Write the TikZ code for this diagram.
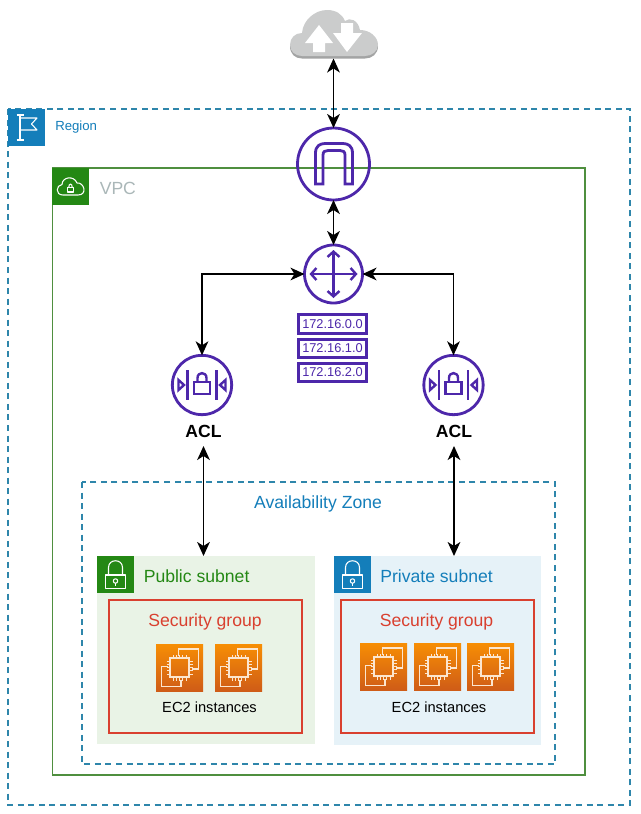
\documentclass[tikz,border=0pt]{standalone}
\usepackage{fontspec}
\setmainfont{Liberation Sans}
\usetikzlibrary{arrows.meta,calc}
\definecolor{awsblue}{HTML}{147EBA}
\definecolor{dashblue}{HTML}{2E86AB}
\definecolor{awsgreen}{HTML}{248814}
\definecolor{vpcline}{HTML}{4F8F3F}
\definecolor{awspurple}{HTML}{4D27AA}
\definecolor{awsred}{HTML}{D9402F}
\definecolor{pubfill}{HTML}{E9F3E6}
\definecolor{prifill}{HTML}{E6F2F8}
\definecolor{vpcgray}{HTML}{AAB7B8}
\definecolor{cloudtop}{HTML}{CBCCCC}
\definecolor{cloudlow}{HTML}{A3A4A4}
\definecolor{ec2top}{HTML}{F78E04}
\definecolor{ec2low}{HTML}{CF5C17}
\definecolor{ec2line}{HTML}{FCE6CF}
\tikzset{
  x=.75pt,y=-.75pt,
  conn/.style={draw=black,line width=1.1pt,{Stealth[length=10.5pt,width=9.5pt,inset=3pt]}-{Stealth[length=10.5pt,width=9.5pt,inset=3pt]}},
  zonebox/.style={draw=dashblue,line width=.9pt,dash pattern=on 4.5pt off 3.4pt},
  iconsq/.style={minimum size=27.75pt,inner sep=0pt,outer sep=0pt},
  ring/.style={circle,draw=awspurple,line width=2.1pt,inner sep=0pt,outer sep=0pt},
  iconline/.style={draw=white,line width=.8pt,line join=round},
  purpleline/.style={draw=awspurple,line width=1.8pt,line join=miter},
  iptag/.style={draw=awspurple,line width=2.4pt,minimum width=51.5pt,minimum height=14pt,inner sep=0pt,outer sep=0pt,text=awspurple,font=\fontsize{9.6}{10}\selectfont},
  big/.style={font=\fontsize{13.2}{14}\selectfont,inner sep=0pt},
  ec2sq/.style={minimum size=35.25pt,inner sep=0pt,outer sep=0pt,top color=ec2top,bottom color=ec2low},
  ec2text/.style={font=\fontsize{11}{12}\selectfont,inner sep=0pt,text=black},
  padlock/.pic={
    \draw[iconline] (-10,.5) rectangle (10,14);
    \draw[iconline] (-7,.5) -- (-7,-7) .. controls (-7,-16) and (7,-16) .. (7,-7) -- (7,.5);
    \draw[iconline] (0,6.5) circle[radius=2.2];
    \draw[iconline] (0,8.7) -- (0,11.5);
  },
  chip/.pic={
    \draw[draw=ec2line,line width=1pt] (-1,-11.5) -- (-1,-18.5) -- (19,-18.5) -- (19,1.5) -- (12,1.5);
    \draw[draw=ec2line,line width=1pt] (-12,-1) -- (-18,-1) -- (-18,19) -- (1.5,19) -- (1.5,12);
    \draw[draw=ec2line,line width=1.1pt] (-9.5,-9.5) rectangle (9.5,9.5);
    \foreach \o in {-6.5,-3.25,0,3.25,6.5}{
      \draw[draw=ec2line,line width=.65pt] (\o,-9.5) -- (\o,-13) (\o,9.5) -- (\o,13) (-9.5,\o) -- (-13,\o) (9.5,\o) -- (13,\o);
    }
  },
  aclmark/.pic={
    \draw[purpleline] (-14.5,-15) -- (-14.5,15) (14.5,-15) -- (14.5,15);
    \draw[purpleline] (-23.5,-5) -- (-23.5,5) -- (-18,0) -- cycle;
    \draw[purpleline] (23.5,-5) -- (23.5,5) -- (18,0) -- cycle;
    \draw[purpleline] (-8,-3) rectangle (8,9);
    \draw[purpleline] (-4.5,-3) -- (-4.5,-7) .. controls (-4.5,-13.5) and (4.5,-13.5) .. (4.5,-7) -- (4.5,-3);
  }
}
\begin{document}
\begin{tikzpicture}
\useasboundingbox[fill=white] (0,0) rectangle (640,814);

% Containers
\draw[zonebox] (8,109) rectangle (630,805);
\draw[draw=vpcline,line width=1.05pt] (52.5,168) rectangle (585,775);
\draw[zonebox] (82,482) rectangle (555,764);
\fill[pubfill] (97,556) rectangle (315,744);
\fill[prifill] (334,556) rectangle (541,745);
\draw[draw=awsred,line width=.9pt] (109,600) rectangle (302,733);
\draw[draw=awsred,line width=.9pt] (341,600) rectangle (534,733);

% Corner icons
\node[iconsq,fill=awsblue] (regionicon) at (26.5,127.5) {};
\draw[iconline] (20,115) -- (20,140) (16.5,140) -- (24,140);
\draw[iconline] (16.5,115) -- (23.5,115);
\draw[iconline] (20,118) -- (37,118) -- (31.5,124) -- (37,130) -- (20,130);
\node[iconsq,fill=awsgreen] (vpcicon) at (70.5,186.5) {};
\draw[iconline] (63,195) .. controls (55,195) and (56,185) .. (62,184.5)
  .. controls (62,177) and (74,175) .. (77,183) .. controls (84,182) and (88,195) .. (78,195) -- cycle;
\draw[iconline] (67.5,187.5) rectangle (73.5,192);
\draw[iconline] (68.8,187.5) .. controls (68.5,183) and (72.5,183) .. (72.2,187.5);
\node[iconsq,fill=awsgreen] (pubicon) at (115.5,574.5) {};
\pic at (115.5,574.5) {padlock};
\node[iconsq,fill=awsblue] (priicon) at (352.5,574.5) {};
\pic at (352.5,574.5) {padlock};

% Container labels
\node[anchor=west,inner sep=0pt,text=awsblue,font=\fontsize{9.9}{11}\selectfont] (regionlab) at (55,127) {Region};
\node[anchor=west,big,text=vpcgray] (vpclab) at (99.5,188) {VPC};
\node[big,text=awsblue] (azlab) at (318,503.5) {Availability Zone};
\node[anchor=west,big,text=awsgreen] (publab) at (143.5,576) {Public subnet};
\node[anchor=west,big,text=awsblue] (prilab) at (380,576) {Private subnet};
\node[big,text=awsred] (sg1) at (205,621.5) {Security group};
\node[big,text=awsred] (sg2) at (436.5,621.5) {Security group};

% Cloud
\node[minimum width=66pt,minimum height=37.5pt,inner sep=0pt,outer sep=0pt] (cloud) at (333.5,33.5) {};
\fill[cloudlow] (302,58.5) .. controls (295,58.5) and (290,54) .. (290,46) -- (378,46) .. controls (378,54) and (372,58.5) .. (365,58.5) -- cycle;
\fill[cloudtop] (302,56) .. controls (295,56) and (290,51) .. (290,45) .. controls (290,38) and (295,33) .. (302,33)
  .. controls (303,20) and (315,10) .. (327,10) .. controls (336,10) and (342,14) .. (345,21)
  .. controls (350,17) and (358,20) .. (360,30) .. controls (370,30) and (378,37) .. (378,45)
  .. controls (378,51) and (372,56) .. (365,56) -- cycle;
\fill[white] (319,25) -- (333,43) -- (325,43) -- (325,52) -- (313,52) -- (313,43) -- (305,43) -- cycle;
\fill[white] (347,52) -- (333,33) -- (341,33) -- (341,23) -- (353,23) -- (353,33) -- (362,33) -- cycle;

% Gateway
\node[ring,minimum size=54pt] (gw) at (333.5,164) {};
\draw[draw=awspurple,line width=2.1pt,line join=miter] (315.5,184) -- (315.5,153) .. controls (315.5,146) and (320,143.5) .. (325,143.5) -- (343,143.5)
  .. controls (348,143.5) and (352.5,146) .. (352.5,153) -- (352.5,184) -- (345,184) -- (345,155)
  .. controls (345,151.5) and (343,150.5) .. (340,150.5) -- (328,150.5)
  .. controls (325,150.5) and (323,151.5) .. (323,155) -- (323,184) -- cycle;

% Router
\node[ring,minimum size=43.5pt] (router) at (333.5,274) {};
\draw[draw=awspurple,line width=1.8pt,{Straight Barb[length=4pt,width=9pt]}-{Straight Barb[length=4pt,width=9pt]}] (309.5,274) -- (357.5,274);
\draw[draw=awspurple,line width=1.8pt,{Straight Barb[length=4pt,width=9pt]}-{Straight Barb[length=4pt,width=9pt]}] (333.5,250) -- (333.5,298);

% Route tags
\node[iptag] (ip0) at (332.5,324) {172.16.0.0};
\node[iptag] (ip1) at (332.5,348.5) {172.16.1.0};
\node[iptag] (ip2) at (332.5,372.5) {172.16.2.0};

% ACLs
\node[ring,minimum size=44.5pt] (acl1) at (202,385) {};
\pic at (202,385) {aclmark};
\node[ring,minimum size=44.5pt] (acl2) at (453.5,385) {};
\pic at (453.5,385) {aclmark};
\node[inner sep=0pt,outer sep=0pt,minimum height=22.5pt,font=\fontsize{13.2}{14}\selectfont\bfseries] (acl1lab) at (203.5,431) {ACL};
\node[inner sep=0pt,outer sep=0pt,minimum height=22.5pt,font=\fontsize{13.2}{14}\selectfont\bfseries] (acl2lab) at (454,431) {ACL};

% EC2
\foreach \n/\cx/\cy in {a/179.5/667.5,b/238.5/667.5,c/383.5/666.5,d/437.5/666.5,e/490.5/666.5}{
  \node[ec2sq] (ec2\n) at (\cx,\cy) {};
  \pic at (\cx,\cy) {chip};
}
\node[ec2text] (ec2t1) at (209.5,707) {EC2 instances};
\node[ec2text] (ec2t2) at (439,707) {EC2 instances};

% Connectors
\draw[conn] (cloud.south) -- (gw.north);
\draw[conn] (gw.south) -- (router.north);
\draw[conn] (router.west) -| (acl1.north);
\draw[conn] (router.east) -| (acl2.north);
\draw[conn] (acl1lab.south) -- (acl1lab.south |- pubicon.north);
\draw[conn] (acl2lab.south) -- (acl2lab.south |- priicon.north);
\end{tikzpicture}
\end{document}
